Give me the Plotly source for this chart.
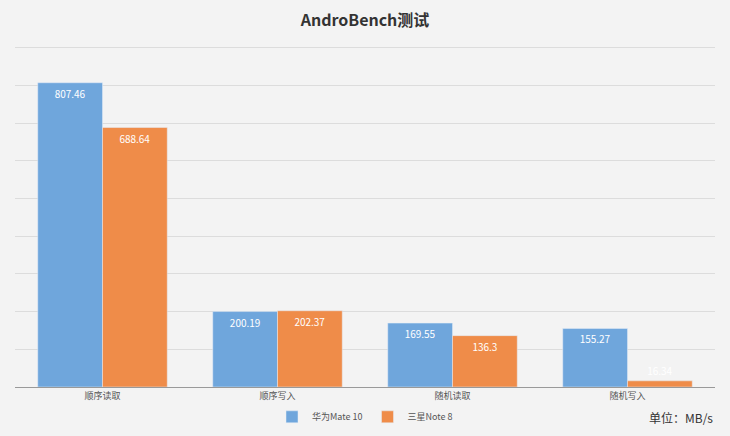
import plotly.graph_objects as go

categories = ["顺序读取", "顺序写入", "随机读取", "随机写入"]
huawei = [807.46, 200.19, 169.55, 155.27]
samsung = [688.64, 202.37, 136.3, 16.34]
y_ticks = [0, 100, 200, 300, 400, 500, 600, 700, 800, 900]

font = "Noto Sans CJK SC"
fig = go.Figure()
fig.add_bar(x=categories, y=huawei, name="华为Mate 10", marker_color="#6fa6dc",
            text=[str(v) for v in huawei], textposition="inside", insidetextanchor="end",
            textfont=dict(color="white", size=10, family=font), textangle=0)
fig.add_bar(x=categories, y=samsung, name="三星Note 8", marker_color="#ef8c49",
            text=[str(v) for v in samsung],
            textposition=["inside", "inside", "inside", "outside"], insidetextanchor="end",
            textfont=dict(color="white", size=10, family=font),
            outsidetextfont=dict(color="white", size=10, family=font),
            textangle=0, cliponaxis=False)
fig.update_layout(
    width=730, height=436, barmode="group", bargap=0.26, bargroupgap=0,
    margin=dict(l=15, r=15, t=46, b=49, autoexpand=False),
    paper_bgcolor="#f3f3f3", plot_bgcolor="rgba(0,0,0,0)",
    font=dict(family=font, size=10, color="#555"),
    title=dict(text="<b>AndroBench测试</b>", x=0.5, xanchor="center", y=0.965,
               font=dict(size=16, color="#333", family=font)),
    yaxis=dict(range=[0, 905], tickvals=y_ticks, showticklabels=False,
               gridcolor="#dcdcdc", zeroline=False),
    xaxis=dict(showline=True, linecolor="#999", tickfont=dict(size=9, color="#555")),
    legend=dict(orientation="h", x=0.5, xanchor="center", yref="container",
                y=0.044, yanchor="middle",
                font=dict(size=9), bgcolor="rgba(0,0,0,0)", itemwidth=30),
    uniformtext=dict(minsize=8, mode="show"),
)
fig.add_annotation(text="单位：MB/s", xref="paper", yref="paper", x=1.0, y=-0.088,
                   xanchor="right", yanchor="middle", showarrow=False,
                   font=dict(size=12, color="#333", family=font))
fig.write_html("out.html", config={"displayModeBar": False},
               post_script="document.body.style.margin='0';")
